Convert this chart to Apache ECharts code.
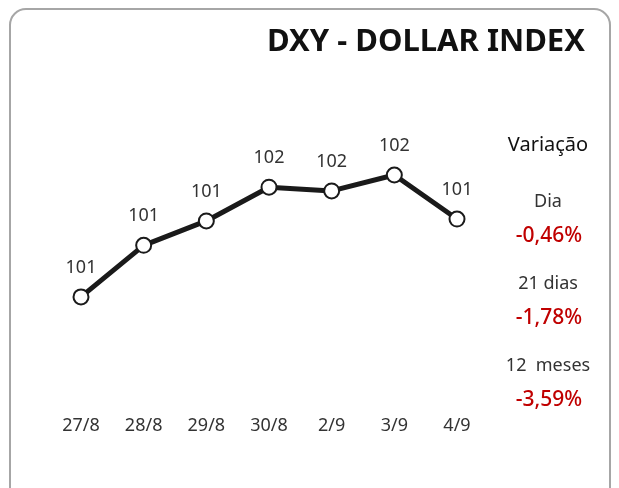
<!DOCTYPE html>
<html>
<head>
<meta charset="utf-8">
<script src="https://cdn.jsdelivr.net/npm/echarts@6/dist/echarts.min.js"></script>
<style>
  html, body { margin: 0; padding: 0; background: #fff; }
  #chart { width: 619px; height: 488px; }
</style>
</head>
<body>
<div id="chart"></div>
<script>
const days = ['27/8', '28/8', '29/8', '30/8', '2/9', '3/9', '4/9'];
const dxy = [100.54, 101.09, 101.35, 101.71, 101.67, 101.84, 101.37];
const varLabels = ['Dia', '21 dias', '12  meses'];
const varValues = ['-0,46%', '-1,78%', '-3,59%'];

const font = '"Noto Sans", sans-serif';
const chart = echarts.init(document.getElementById('chart'));

// bloco de variação à direita
const sideText = [
  {
    type: 'text', x: 548, y: 145, 
    style: { text: 'Variação', font: '20px ' + font, fill: '#111', align: 'center', verticalAlign: 'middle' },
  },
];
varLabels.forEach((name, i) => {
  const y = 202 + i * 82;
  sideText.push({
    type: 'text', x: 548, y: y,
    style: { text: name, font: '18px ' + font, fill: '#333', align: 'center', verticalAlign: 'middle' },
  });
  sideText.push({
    type: 'text', x: 549, y: y + 34,
    style: { text: varValues[i], font: '500 21px ' + font, fill: '#c00000', align: 'center', verticalAlign: 'middle' },
  });
});

const option = {
  animation: false,
  title: {
    text: 'DXY - DOLLAR INDEX',
    right: 29,
    top: 22,
    textStyle: { fontFamily: font, fontSize: 31, fontWeight: 'bold', color: '#111' },
  },
  graphic: [
    {
      type: 'rect',
      shape: { x: 10, y: 9, width: 600, height: 500, r: 16 },
      style: { fill: 'none', stroke: '#a6a6a6', lineWidth: 2 },
    },
  ].concat(sideText),
  grid: { left: 81, right: 162, top: 160, bottom: 178 },
  xAxis: {
    type: 'category',
    boundaryGap: false,
    data: days,
    axisLine: { show: false },
    axisTick: { show: false },
    axisLabel: { margin: 107, fontFamily: font, fontSize: 18, color: '#333' },
  },
  yAxis: {
    type: 'value',
    min: 100.4,
    max: 102.0,
    show: false,
  },
  series: [
    {
      type: 'line',
      data: dxy,
      symbol: 'circle',
      symbolSize: 15,
      lineStyle: { color: '#1a1a1a', width: 5 },
      itemStyle: { color: '#fff', borderColor: '#1a1a1a', borderWidth: 2 },
      label: {
        show: true,
        position: 'top',
        distance: 12,
        fontFamily: font,
        fontSize: 18,
        color: '#333',
        formatter: (p) => Math.round(p.value),
      },
    },
  ],
};

chart.setOption(option);
</script>
</body>
</html>
